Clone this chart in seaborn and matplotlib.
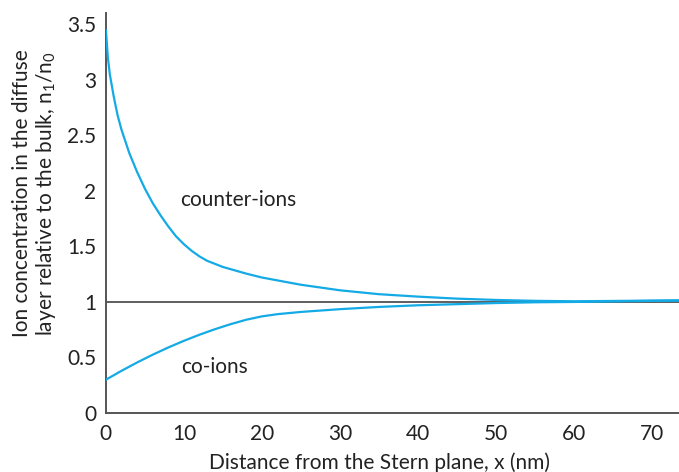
import matplotlib
matplotlib.use("Agg")
import matplotlib.pyplot as plt
import seaborn as sns
import pandas as pd

# Data
counter_x = [0, 0.25, 0.5, 1, 1.5, 2, 3, 4, 5, 6, 7, 8, 9, 10, 11, 12, 13, 15, 18, 20,
             25, 30, 35, 40, 45, 50, 55, 60, 65, 70, 73.5]
counter_y = [3.45, 3.2, 3.05, 2.85, 2.68, 2.55, 2.34, 2.17, 2.02, 1.89, 1.78, 1.68, 1.59,
             1.52, 1.46, 1.41, 1.37, 1.315, 1.255, 1.22, 1.155, 1.105, 1.07, 1.048, 1.03,
             1.018, 1.01, 1.006, 1.009, 1.012, 1.015]
co_x = [0, 2, 4, 6, 8, 10, 12, 14, 16, 18, 20, 22, 25, 30, 35, 40, 45, 50, 55, 60,
        65, 70, 73.5]
co_y = [0.30, 0.38, 0.455, 0.525, 0.59, 0.65, 0.705, 0.755, 0.80, 0.84, 0.87, 0.89, 0.91,
        0.935, 0.955, 0.97, 0.98, 0.99, 0.997, 1.0, 1.005, 1.01, 1.012]
x_ticks = [0, 10, 20, 30, 40, 50, 60, 70]
y_ticks = [0, 0.5, 1, 1.5, 2, 2.5, 3, 3.5]
y_tick_labels = ["0", "0.5", "1", "1.5", "2", "2.5", "3", "3.5"]

sns.set_style("white")
plt.rcParams["font.family"] = ["Lato", "DejaVu Sans"]
plt.rcParams["mathtext.fontset"] = "custom"
plt.rcParams["mathtext.rm"] = "Lato"
plt.rcParams["mathtext.it"] = "Lato"

df_c = pd.DataFrame({"x": counter_x, "y": counter_y})
df_o = pd.DataFrame({"x": co_x, "y": co_y})

fig = plt.figure(figsize=(6.79, 4.72), dpi=100)
ax = fig.add_axes([0.156, 0.125, 0.844, 0.847])

line_color = "#13AAE6"
ax.axhline(1, color="#333333", lw=1.1, zorder=1)
sns.lineplot(data=df_c, x="x", y="y", ax=ax, color=line_color, lw=1.6, zorder=3)
sns.lineplot(data=df_o, x="x", y="y", ax=ax, color=line_color, lw=1.6, zorder=3)

ax.set_xlim(0, 73.5)
ax.set_ylim(0, 3.6)
ax.set_xticks(x_ticks)
ax.set_yticks(y_ticks)
ax.set_yticklabels(y_tick_labels)

for side in ["top", "right"]:
    ax.spines[side].set_visible(False)
for side in ["left", "bottom"]:
    ax.spines[side].set_color("#555555")
    ax.spines[side].set_linewidth(1.4)
ax.tick_params(direction="in", length=6, width=1.2, color="#555555",
               labelsize=15, labelcolor="#222222")
ax.tick_params(axis="x", pad=8)
ax.tick_params(axis="y", pad=7)

ax.set_xlabel("Distance from the Stern plane, x (nm)", fontsize=15, color="#222222")
ax.xaxis.set_label_coords(0.478, -0.098)
ax.set_ylabel("Ion concentration in the diffuse\nlayer relative to the bulk, n$_1$/n$_0$",
              fontsize=15, color="#222222", linespacing=1.15)
ax.yaxis.set_label_coords(-0.083, 0.55)

ax.text(9.5, 1.92, "counter-ions", fontsize=15, color="#222222", va="center")
ax.text(9.6, 0.41, "co-ions", fontsize=15, color="#222222", va="center")

fig.savefig("out.png", dpi=100)
